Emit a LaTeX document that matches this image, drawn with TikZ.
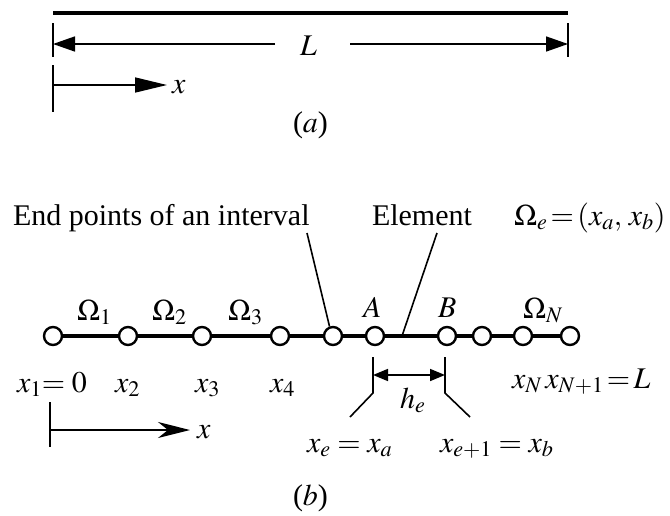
\documentclass[tikz,border=0pt]{standalone}
\usepackage{mathptmx}
\usepackage{fontspec}
\setmainfont{Liberation Serif}
\usetikzlibrary{arrows.meta}
\tikzset{
  lbl/.style={anchor=base west, inner sep=0pt, outer sep=0pt},
  node/.style={circle, draw, line width=2.4pt, minimum size=18pt, inner sep=0pt, fill=white},
  thin/.style={line width=1.6pt},
  chain/.style={line width=3.2pt},
  headA/.style={-{Triangle[length=22pt,width=15pt]}},
  headX/.style={-{Triangle[length=32pt,width=15pt]}},
  headB/.style={-{Stealth[length=32pt,width=16pt,inset=10pt]}},
  headH/.style={{Triangle[length=15pt,width=12pt]}-{Triangle[length=15pt,width=12pt]}},
}
\begin{document}
\begin{tikzpicture}[x=1pt,y=-1pt,font=\fontsize{30}{36}\selectfont]
\useasboundingbox (0,0) rectangle (670,515);
% ---------- (a) ----------
\coordinate (barL) at (53,13);
\coordinate (barR) at (568,13);
\draw[line width=4.5pt] (barL) -- (barR);
\coordinate (tA1) at (53,23); \coordinate (tA2) at (53,57);
\coordinate (tA3) at (53,65); \coordinate (tA4) at (53,112);
\coordinate (tB1) at (568,23); \coordinate (tB2) at (568,57);
\draw[thin] (tA1) -- (tA2);
\draw[thin] (tA3) -- (tA4);
\draw[thin] (tB1) -- (tB2);
\node[lbl] (L) at (300,55) {$L$};
\coordinate (Lleft) at (275,44);
\coordinate (Lright) at (350,44);
\coordinate (Lend1) at (53,44);
\coordinate (Lend2) at (568,44);
\draw[thin,headA] (Lleft) -- (Lend1);
\draw[thin,headA] (Lright) -- (Lend2);
\coordinate (xa0) at (53,85);
\coordinate (xa1) at (167,85);
\node[lbl] (xa) at (172,93) {$x$};
\draw[thin,headX] (xa0) -- (xa1);
\node[lbl] (capa) at (293,132) {($a$)};
% ---------- (b) ----------
\node[lbl] (endpts) at (13,225) {End points of an interval};
\node[lbl] (elem) at (372,225) {Element};
\node[lbl] (omegae) at (514,225) {$\Omega_e\,{=}\,(x_a,\,x_b)$};
\foreach \i/\x in {1/53,2/128,3/202,4/280,5/333,6/375,7/447,8/482,9/523,10/570}{
  \coordinate (c\i) at (\x,336);
}
\draw[chain] (c1) -- (c10);
\foreach \i in {1,...,10}{
  \node[node] (n\i) at (c\i) {};
}
\node[lbl] (O1) at (77,320) {$\Omega_1$};
\node[lbl] (O2) at (152,320) {$\Omega_2$};
\node[lbl] (O3) at (228,320) {$\Omega_3$};
\node[lbl] (A) at (363,317) {$A$};
\node[lbl] (B) at (438,317) {$B$};
\node[lbl] (ON) at (523,318) {$\Omega_N$};
% leaders
\coordinate (ep) at (307,233);
\draw[thin] (ep) -- (n5.110);
\coordinate (el) at (437,233);
\coordinate (elb) at (402,336);
\draw[thin] (el) -- (elb);
% h_e bracket
\coordinate (hL1) at (373,357); \coordinate (hL2) at (373,393); \coordinate (hL3) at (350,417);
\coordinate (hR1) at (445,357); \coordinate (hR2) at (445,393); \coordinate (hR3) at (470,417);
\draw[thin] (hL1) -- (hL2) -- (hL3);
\draw[thin] (hR1) -- (hR2) -- (hR3);
\coordinate (ha) at (373,375); \coordinate (hb) at (445,375);
\draw[thin,headH] (ha) -- (hb);
\node[lbl] (he) at (400,408) {$h_e$};
\node[lbl] (xe) at (307,452) {$x_e = x_a$};
\node[lbl] (xe1) at (440,452) {$x_{e+1} = x_b$};
% x labels
\node[lbl] (x1) at (17,392) {$x_1{=}\;0$};
\node[lbl] (x2) at (115,392) {$x_2$};
\node[lbl] (x3) at (195,392) {$x_3$};
\node[lbl] (x4) at (270,392) {$x_4$};
\node[lbl] (xN) at (512,388) {$x_N\,x_{N+1}\,{=}\,L$};
% lower axis
\coordinate (tb1) at (50,402); \coordinate (tb2) at (50,447);
\draw[thin] (tb1) -- (tb2);
\coordinate (xb0) at (50,430);
\coordinate (xb1) at (190,430);
\draw[thin,headB] (xb0) -- (xb1);
\node[lbl] (xb) at (197,438) {$x$};
\node[lbl] (capb) at (293,505) {($b$)};
\end{tikzpicture}
\end{document}
